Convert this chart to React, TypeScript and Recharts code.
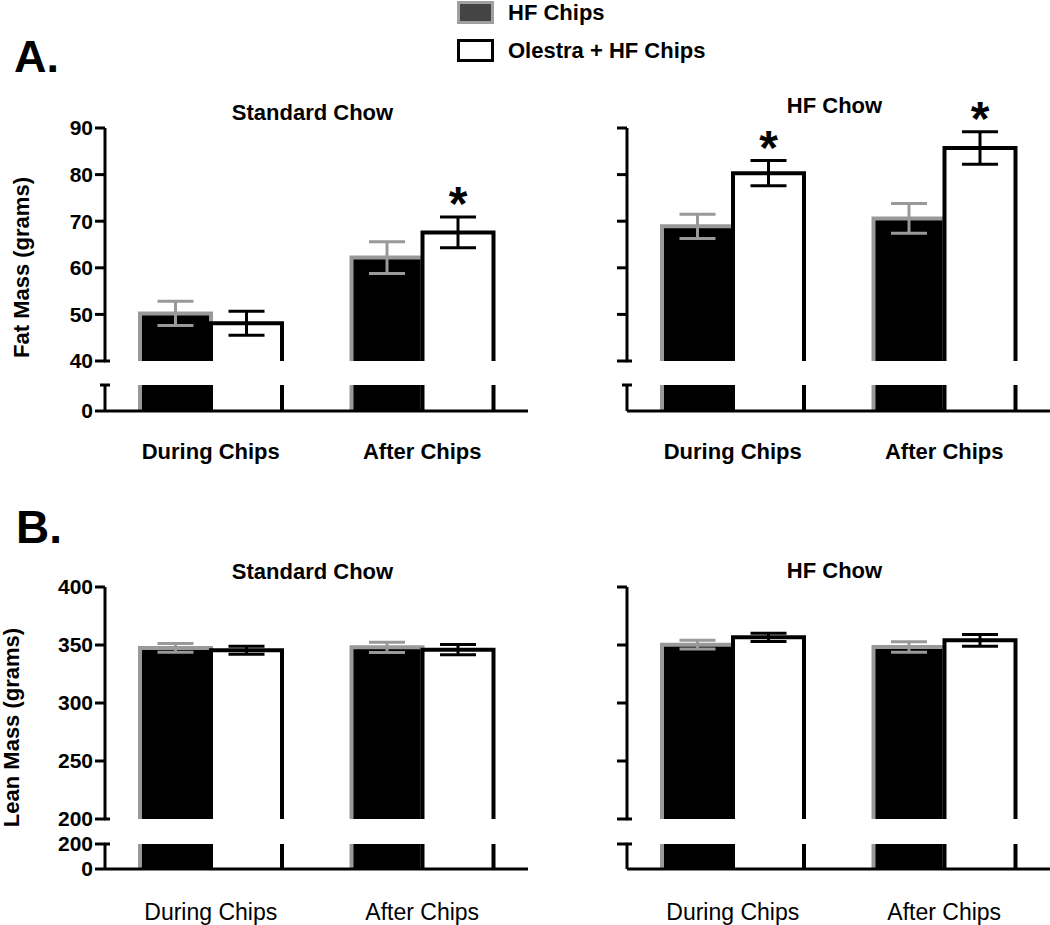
import React from 'react';
import { BarChart, Bar, XAxis, YAxis, ErrorBar, LabelList } from 'recharts';

const FONT = '"Liberation Sans", Arial, Helvetica, sans-serif';

// categories
const CATEGORIES = ['During Chips', 'After Chips'];

// A. fat mass, standard chow
const FAT_STD_HF = [50.2, 62.2];
const FAT_STD_HF_ERR = [2.6, 3.4];
const FAT_STD_OL = [48.1, 67.6];
const FAT_STD_OL_ERR = [2.6, 3.3];
const FAT_STD_STAR = [false, true];

// A. fat mass, HF chow
const FAT_HFC_HF = [68.9, 70.6];
const FAT_HFC_HF_ERR = [2.6, 3.2];
const FAT_HFC_OL = [80.3, 85.7];
const FAT_HFC_OL_ERR = [2.7, 3.5];
const FAT_HFC_STAR = [true, true];

// B. lean mass, standard chow
const LEAN_STD_HF = [347.5, 348.0];
const LEAN_STD_HF_ERR = [3.8, 4.4];
const LEAN_STD_OL = [345.5, 346.0];
const LEAN_STD_OL_ERR = [3.5, 4.5];
const LEAN_STD_STAR = [false, false];

// B. lean mass, HF chow
const LEAN_HFC_HF = [350.3, 348.3];
const LEAN_HFC_HF_ERR = [3.8, 4.5];
const LEAN_HFC_OL = [356.6, 354.0];
const LEAN_HFC_OL_ERR = [3.5, 5.0];
const LEAN_HFC_STAR = [false, false];

// axis ticks
const FAT_TICKS = [40, 50, 60, 70, 80, 90];
const FAT_LOWER_TICKS = [0, 5];
const LEAN_TICKS = [200, 250, 300, 350, 400];
const LEAN_LOWER_TICKS = [0, 200];

type Row = { name: string; hf: number; hfErr: number; ol: number; olErr: number; star: boolean };

const buildRows = (hf: number[], hfErr: number[], ol: number[], olErr: number[], star: boolean[]): Row[] =>
  CATEGORIES.map((name, i) => ({ name, hf: hf[i], hfErr: hfErr[i], ol: ol[i], olErr: olErr[i], star: star[i] }));

const TICK_SIZE = 10;
const TICK_MARGIN = 2;

// bar without a bottom edge, so the break looks open
const OpenBar = (props: any) => {
  const { x, y, width, height, barFill, edge, edgeWidth } = props;
  if (width == null || height == null) return null;
  const d = `M${x},${y + height} L${x},${y} L${x + width},${y} L${x + width},${y + height}`;
  return (
    <g>
      <rect x={x} y={y} width={width} height={height} fill={barFill} />
      <path d={d} fill="none" stroke={edge} strokeWidth={edgeWidth} />
    </g>
  );
};

const hfShape = (p: any) => <OpenBar {...p} barFill="#000" edge="#999" edgeWidth={4} />;
const olShape = (p: any) => <OpenBar {...p} barFill="#fff" edge="#000" edgeWidth={4} />;

type TickOpts = { labels: boolean; stubAt?: number; capAt?: number; noTickAt?: number[] };

const makeYTick = (opts: TickOpts) => (props: any) => {
  const { x, y, payload } = props;
  const v = payload.value as number;
  const ax = x + TICK_SIZE + TICK_MARGIN;
  const isCap = opts.capAt === v;
  const noTick = isCap || (opts.noTickAt ? opts.noTickAt.includes(v) : false);
  return (
    <g>
      {!noTick && <line x1={ax - TICK_SIZE} x2={ax} y1={y} y2={y} stroke="#000" strokeWidth={3} />}
      {opts.stubAt === v && <line x1={ax - 1} x2={ax + 5} y1={y} y2={y} stroke="#000" strokeWidth={3} />}
      {isCap && <line x1={ax - 5} x2={ax + 5} y1={y} y2={y} stroke="#000" strokeWidth={3} />}
      {opts.labels && !isCap && (
        <text x={x} y={y} dy="0.355em" textAnchor="end" fontSize={21} fontWeight="bold" fontFamily={FONT} fill="#000">
          {v}
        </text>
      )}
    </g>
  );
};

const makeXTick = (bold: boolean, dy: number) => (props: any) => (
  <text
    x={props.x}
    y={props.y + dy}
    textAnchor="middle"
    fontSize={bold ? 22 : 23}
    fontWeight={bold ? 'bold' : 'normal'}
    fontFamily={FONT}
    fill="#000"
  >
    {props.payload.value}
  </text>
);

const starContent = (data: Row[], base: number) => (props: any) => {
  const row = data[props.index];
  if (!row || !row.star) return null;
  const vb = props.viewBox || props;
  const { x, y, width, height } = vb;
  const perUnit = height / (row.ol - base);
  const errTop = y - row.olErr * perUnit;
  const cy = errTop - 24;
  return (
    <text x={x + width / 2} y={cy + 27} textAnchor="middle" fontSize={48} fontWeight="bold" fontFamily={FONT} fill="#000">
      *
    </text>
  );
};

interface PanelProps {
  data: Row[];
  side: 'left' | 'right';
  upperDomain: [number, number];
  upperTicks: number[];
  lowerDomain: [number, number];
  lowerTicks: number[];
  lowerBreak: 'cap' | 'tick';
  plotTop: number;
  plotBottom: number;
  lowerTop: number;
  baseline: number;
  labelBold: boolean;
  labelDy: number;
}

const Panel: React.FC<PanelProps> = (p) => {
  const isLeft = p.side === 'left';
  const divLeft = isLeft ? 0 : 525;
  const w = isLeft ? 540 : 525;
  const ml = isLeft ? 45 : 42;
  const mr = isLeft ? 12 : 0;
  const upTop = p.plotTop - 70;
  const upHeight = p.plotBottom - upTop + 10;
  const lowDivTop = p.lowerTop - 20;
  const lowHeight = 20 + (p.baseline - p.lowerTop) + 60;
  const lowerTopValue = p.lowerTicks[p.lowerTicks.length - 1];

  return (
    <>
      <div style={{ position: 'absolute', left: divLeft, top: upTop }}>
        <BarChart width={w} height={upHeight} data={p.data} margin={{ top: 70, right: mr, bottom: 10, left: ml }} barGap={0} barSize={71}>
          <XAxis dataKey="name" hide />
          <YAxis
            width={60}
            type="number"
            domain={p.upperDomain}
            ticks={p.upperTicks}
            interval={0}
            axisLine={{ stroke: '#000', strokeWidth: 3 }}
            tickLine={false}
            tickSize={TICK_SIZE}
            tickMargin={TICK_MARGIN}
            tick={makeYTick({ labels: isLeft, stubAt: p.upperDomain[0] })}
          />
          <Bar dataKey="hf" isAnimationActive={false} shape={hfShape}>
            <ErrorBar dataKey="hfErr" width={18} stroke="#999" strokeWidth={3} direction="y" />
          </Bar>
          <Bar dataKey="ol" isAnimationActive={false} shape={olShape}>
            <ErrorBar dataKey="olErr" width={18} stroke="#000" strokeWidth={3} direction="y" />
            <LabelList dataKey="ol" content={starContent(p.data, p.upperDomain[0])} />
          </Bar>
        </BarChart>
      </div>
      <div style={{ position: 'absolute', left: divLeft, top: lowDivTop }}>
        <BarChart width={w} height={lowHeight} data={p.data} margin={{ top: 20, right: mr, bottom: 0, left: ml }} barGap={0} barSize={71}>
          <XAxis
            dataKey="name"
            height={60}
            interval={0}
            axisLine={{ stroke: '#000', strokeWidth: 3 }}
            tickLine={false}
            tickSize={0}
            tickMargin={0}
            tick={makeXTick(p.labelBold, p.labelDy)}
          />
          <YAxis
            width={60}
            type="number"
            domain={p.lowerDomain}
            ticks={p.lowerTicks}
            allowDataOverflow
            interval={0}
            axisLine={{ stroke: '#000', strokeWidth: 3 }}
            tickLine={false}
            tickSize={TICK_SIZE}
            tickMargin={TICK_MARGIN}
            tick={makeYTick({
              labels: isLeft,
              stubAt: p.lowerBreak === 'tick' ? lowerTopValue : undefined,
              capAt: p.lowerBreak === 'cap' ? lowerTopValue : undefined,
              noTickAt: isLeft ? [] : [0],
            })}
          />
          <Bar dataKey="hf" isAnimationActive={false} shape={hfShape} />
          <Bar dataKey="ol" isAnimationActive={false} shape={olShape} />
        </BarChart>
      </div>
    </>
  );
};

const fatStd = buildRows(FAT_STD_HF, FAT_STD_HF_ERR, FAT_STD_OL, FAT_STD_OL_ERR, FAT_STD_STAR);
const fatHfc = buildRows(FAT_HFC_HF, FAT_HFC_HF_ERR, FAT_HFC_OL, FAT_HFC_OL_ERR, FAT_HFC_STAR);
const leanStd = buildRows(LEAN_STD_HF, LEAN_STD_HF_ERR, LEAN_STD_OL, LEAN_STD_OL_ERR, LEAN_STD_STAR);
const leanHfc = buildRows(LEAN_HFC_HF, LEAN_HFC_HF_ERR, LEAN_HFC_OL, LEAN_HFC_OL_ERR, LEAN_HFC_STAR);

const fatLayout = { plotTop: 128, plotBottom: 361, lowerTop: 385, baseline: 411, labelBold: true, labelDy: 48 };
const leanLayout = { plotTop: 587, plotBottom: 819, lowerTop: 844, baseline: 869, labelBold: false, labelDy: 51 };

const App: React.FC = () => {
  const txt = { fontFamily: FONT, fill: '#000', fontWeight: 'bold' as const };
  return (
    <div style={{ position: 'absolute', left: 0, top: 0, width: 1050, height: 925, background: '#fff', overflow: 'hidden' }}>
      <Panel data={fatStd} side="left" upperDomain={[40, 90]} upperTicks={FAT_TICKS} lowerDomain={[0, 5]} lowerTicks={FAT_LOWER_TICKS} lowerBreak="cap" {...fatLayout} />
      <Panel data={fatHfc} side="right" upperDomain={[40, 90]} upperTicks={FAT_TICKS} lowerDomain={[0, 5]} lowerTicks={FAT_LOWER_TICKS} lowerBreak="cap" {...fatLayout} />
      <Panel data={leanStd} side="left" upperDomain={[200, 400]} upperTicks={LEAN_TICKS} lowerDomain={[0, 200]} lowerTicks={LEAN_LOWER_TICKS} lowerBreak="tick" {...leanLayout} />
      <Panel data={leanHfc} side="right" upperDomain={[200, 400]} upperTicks={LEAN_TICKS} lowerDomain={[0, 200]} lowerTicks={LEAN_LOWER_TICKS} lowerBreak="tick" {...leanLayout} />

      <svg width={1050} height={925} style={{ position: 'absolute', left: 0, top: 0, pointerEvents: 'none' }}>
        {/* legend */}
        <rect x={458.5} y={2.5} width={34} height={20} fill="#444" stroke="#a0a0a0" strokeWidth={3} />
        <text x={508} y={20} fontSize={22} {...txt}>HF Chips</text>
        <rect x={458.5} y={40.5} width={34} height={20} fill="#fff" stroke="#000" strokeWidth={3} />
        <text x={508} y={58} fontSize={22} {...txt}>Olestra + HF Chips</text>

        {/* panel letters */}
        <text x={14} y={72} fontSize={45} {...txt}>A.</text>
        <text x={16} y={543} fontSize={46} {...txt}>B.</text>

        {/* panel titles */}
        <text x={312.5} y={120} fontSize={22} textAnchor="middle" {...txt}>Standard Chow</text>
        <text x={834.5} y={113} fontSize={22} textAnchor="middle" {...txt}>HF Chow</text>
        <text x={312.5} y={579} fontSize={22} textAnchor="middle" {...txt}>Standard Chow</text>
        <text x={834.5} y={578} fontSize={22} textAnchor="middle" {...txt}>HF Chow</text>

        {/* y axis titles */}
        <text transform="translate(29,267.5) rotate(-90)" fontSize={22} textAnchor="middle" {...txt}>Fat Mass (grams)</text>
        <text transform="translate(19,727.5) rotate(-90)" fontSize={22} textAnchor="middle" {...txt}>Lean Mass (grams)</text>
      </svg>
    </div>
  );
};

export default App;
